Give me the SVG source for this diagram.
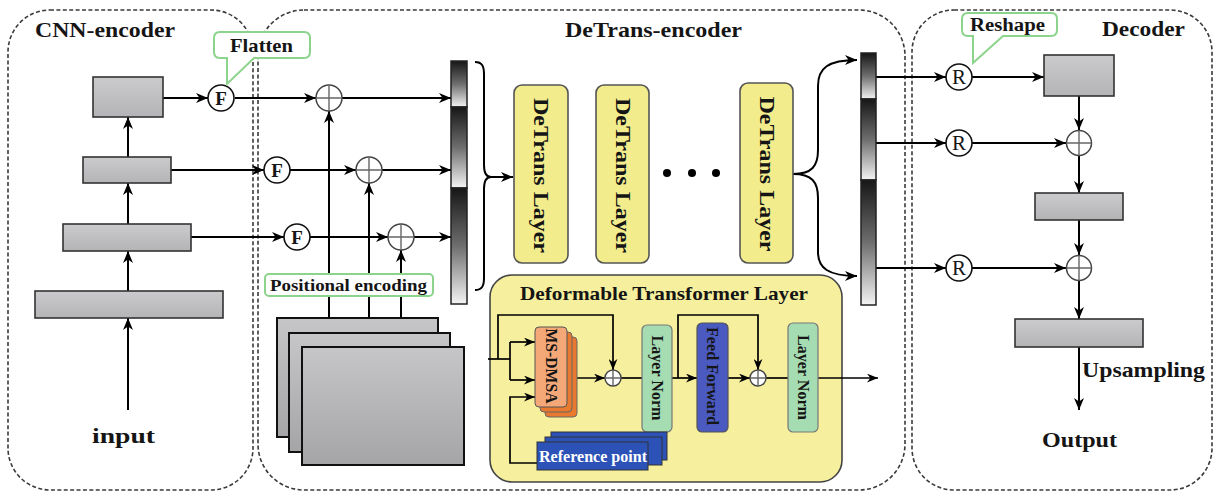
<svg xmlns="http://www.w3.org/2000/svg" width="1216" height="496" viewBox="0 0 1216 496">
<style>
text{font-family:"Liberation Serif","Times New Roman",serif;font-weight:bold;fill:#151515}
.box{fill:none;stroke:#3a3a3a;stroke-width:1.6;stroke-dasharray:4 2.4}
.g{fill:url(#gr);stroke:#333;stroke-width:1.6}
.ln{fill:none;stroke:#000;stroke-width:2}
.lnm{fill:none;stroke:#000;stroke-width:2;marker-end:url(#ah)}
.sm{fill:none;stroke:#000;stroke-width:1.7;marker-end:url(#ahs)}
.sl{fill:none;stroke:#000;stroke-width:1.7}
.circ{fill:#fff;stroke:#111;stroke-width:1.6}
.plus{fill:#fff;stroke:#444;stroke-width:1.5}
.cross{stroke:#666;stroke-width:1.4}
.tag{fill:#fff;stroke:#8cd48c;stroke-width:2}
.layer{fill:#f2ec8c;stroke:#555;stroke-width:1.6}
.seg{fill:url(#bar);stroke:#222;stroke-width:1.5}
.ln2{fill:#a6dcb2;stroke:#777;stroke-width:1.2}
.ms{fill:#e8792f;stroke:#666;stroke-width:1}
.rp{fill:#2c52b8;stroke:#333;stroke-width:1}
</style>
<defs>
<marker id="ah" viewBox="0 0 12 10" refX="12" refY="5" markerWidth="12" markerHeight="10" markerUnits="userSpaceOnUse" orient="auto"><path d="M0,0 L12,5 L0,10 L3.5,5 z" fill="#000"/></marker>
<marker id="ahs" viewBox="0 0 10 8" refX="10" refY="4" markerWidth="11" markerHeight="9" markerUnits="userSpaceOnUse" orient="auto"><path d="M0,0 L10,4 L0,8 L3,4 z" fill="#000"/></marker>
<linearGradient id="bar" x1="0" y1="0" x2="0" y2="1"><stop offset="0" stop-color="#161616"/><stop offset="0.5" stop-color="#6e6e6e"/><stop offset="1" stop-color="#f4f4f4"/></linearGradient>
<linearGradient id="gr" x1="0" y1="0" x2="0" y2="1"><stop offset="0" stop-color="#cbcbcd"/><stop offset="1" stop-color="#b4b4b6"/></linearGradient>
<linearGradient id="gr2" x1="0" y1="0" x2="0" y2="1"><stop offset="0" stop-color="#c6c6c8"/><stop offset="1" stop-color="#a5a5a7"/></linearGradient>
</defs>

<g id="cnn-encoder">
<rect class="box" x="8" y="10" width="245" height="480" rx="42"/>
<text x="35" y="37" font-size="21" textLength="140" lengthAdjust="spacingAndGlyphs">CNN-encoder</text>
</g>
<g id="detrans-encoder">
<rect class="box" x="258" y="10" width="647" height="480" rx="46"/>
<text x="565" y="37" font-size="21" textLength="177" lengthAdjust="spacingAndGlyphs">DeTrans-encoder</text>
</g>
<g id="decoder">
<rect class="box" x="912" y="10" width="300" height="480" rx="42"/>
<text x="1102" y="36" font-size="21" textLength="83" lengthAdjust="spacingAndGlyphs">Decoder</text>
</g>

<g id="connectors">
<path class="lnm" d="M128,410 V318"/>
<path class="lnm" d="M128,291 V251"/>
<path class="lnm" d="M128,224 V183"/>
<path class="lnm" d="M128,157 V117"/>
<path class="lnm" d="M163,98 H208"/>
<path class="lnm" d="M235,98 H316"/>
<path class="lnm" d="M342,98 H451"/>
<path class="lnm" d="M171,170 H264"/>
<path class="lnm" d="M290,170 H356"/>
<path class="lnm" d="M382,170 H451"/>
<path class="lnm" d="M191,237 H284"/>
<path class="lnm" d="M310,237 H388"/>
<path class="lnm" d="M414,237 H451"/>
<path class="lnm" d="M329,318 V111"/>
<path class="lnm" d="M369,333 V183"/>
<path class="lnm" d="M401,318 V250"/>
<path class="ln" d="M475,62 C482,62 484,66 484,74 V165 C484,173 486,177 491,177 C486,177 484,181 484,189 V278 C484,286 482,290 475,290"/>
<path class="lnm" d="M490,177 H513"/>
<path class="lnm" d="M793,174 C812,174 818,166 818,150 V86 C818,68 828,60 857,60"/>
<path class="lnm" d="M793,174 C812,174 818,182 818,198 V252 C818,268 828,276 857,276"/>
<path class="lnm" d="M876,77 H946"/>
<path class="lnm" d="M972,77 H1044"/>
<path class="lnm" d="M876,143 H946"/>
<path class="lnm" d="M972,143 H1066"/>
<path class="lnm" d="M876,268 H946"/>
<path class="lnm" d="M972,268 H1066"/>
<path class="lnm" d="M1079,96 V130"/>
<path class="lnm" d="M1079,156 V193"/>
<path class="lnm" d="M1079,220 V255"/>
<path class="lnm" d="M1079,281 V319"/>
<path class="lnm" d="M1079,347 V410"/>
</g>

<g id="c1"><rect class="g" x="93" y="77" width="70" height="40"/></g>
<g id="c2"><rect class="g" x="83" y="157" width="88" height="26"/></g>
<g id="c3"><rect class="g" x="63" y="224" width="128" height="27"/></g>
<g id="c4"><rect class="g" x="35" y="291" width="188" height="27"/></g>
<g id="input"><text x="92" y="443" font-size="21" textLength="63" lengthAdjust="spacingAndGlyphs">input</text></g>

<g id="f1"><circle class="circ" cx="221" cy="98" r="13"/><text x="221" y="104.5" font-size="19" text-anchor="middle">F</text></g>
<g id="f2"><circle class="circ" cx="277" cy="170" r="13"/><text x="277" y="176.5" font-size="19" text-anchor="middle">F</text></g>
<g id="f3"><circle class="circ" cx="297" cy="237" r="13"/><text x="297" y="243.5" font-size="19" text-anchor="middle">F</text></g>

<g id="p1"><circle class="plus" cx="329" cy="98" r="13"/><path class="cross" d="M316,98 H342 M329,85 V111"/></g>
<g id="p2"><circle class="plus" cx="369" cy="170" r="13"/><path class="cross" d="M356,170 H382 M369,157 V183"/></g>
<g id="p3"><circle class="plus" cx="401" cy="237" r="13"/><path class="cross" d="M388,237 H414 M401,224 V250"/></g>

<g id="flatten"><path class="tag" d="M220,32 H304 Q310,32 310,38 V52 Q310,58 304,58 H254 L227,84 V58 H220 Q214,58 214,52 V38 Q214,32 220,32 Z"/><text x="230" y="52" font-size="19" textLength="63" lengthAdjust="spacingAndGlyphs">Flatten</text></g>

<g id="pos-features">
<rect x="277" y="318" width="161" height="119" fill="url(#gr2)" stroke="#111" stroke-width="2"/>
<rect x="289" y="333" width="161" height="119" fill="url(#gr2)" stroke="#111" stroke-width="2"/>
<rect x="302" y="347" width="162" height="118" fill="url(#gr2)" stroke="#111" stroke-width="2"/>
</g>
<g id="positional"><rect class="tag" x="265" y="274" width="168" height="22" rx="4"/><text x="270" y="291" font-size="17" textLength="157" lengthAdjust="spacingAndGlyphs">Positional encoding</text></g>

<g id="in-bar">
<rect class="seg" x="451" y="61" width="16" height="46"/>
<rect class="seg" x="451" y="107" width="16" height="81"/>
<rect class="seg" x="451" y="188" width="16" height="116"/>
</g>

<g id="dt1"><rect class="layer" x="514" y="85" width="54" height="178" rx="8"/><text transform="translate(541,175.5) rotate(90)" font-size="20" text-anchor="middle" dominant-baseline="central" textLength="155" lengthAdjust="spacingAndGlyphs">DeTrans Layer</text></g>
<g id="dt2"><rect class="layer" x="596" y="85" width="53" height="178" rx="8"/><text transform="translate(622.5,175.5) rotate(90)" font-size="20" text-anchor="middle" dominant-baseline="central" textLength="155" lengthAdjust="spacingAndGlyphs">DeTrans Layer</text></g>
<g id="dots"><circle cx="667" cy="173" r="4" fill="#000"/><circle cx="692" cy="173" r="4" fill="#000"/><circle cx="716" cy="173" r="4" fill="#000"/></g>
<g id="dt3"><rect class="layer" x="740" y="83" width="53" height="180" rx="8"/><text transform="translate(766.5,174) rotate(90)" font-size="20" text-anchor="middle" dominant-baseline="central" textLength="155" lengthAdjust="spacingAndGlyphs">DeTrans Layer</text></g>

<g id="out-bar">
<rect class="seg" x="861" y="53" width="15" height="46"/>
<rect class="seg" x="861" y="99" width="15" height="81"/>
<rect class="seg" x="861" y="180" width="15" height="125"/>
</g>

<g id="deformable">
<rect x="490" y="275" width="352" height="207" rx="22" fill="#f6f09e" stroke="#444" stroke-width="1.6"/>
<text x="520" y="300" font-size="19" textLength="288" lengthAdjust="spacingAndGlyphs">Deformable Transformer Layer</text>
<g id="deform-connectors">
<path class="sl" d="M488,359 H510"/>
<path class="sm" d="M498,359 V315 H613 V370"/>
<path class="sl" d="M510,342 V380"/>
<path class="sm" d="M510,342 H535"/>
<path class="sm" d="M510,380 H535"/>
<path class="sm" d="M537,463 H510 V397 H535"/>
<path class="sm" d="M567,378 H605"/>
<path class="sl" d="M621,378 H642"/>
<path class="sm" d="M672,378 H697"/>
<path class="sm" d="M678,378 V315 H758 V370"/>
<path class="sm" d="M728,378 H750"/>
<path class="sl" d="M766,378 H788"/>
<path class="sm" d="M818,378 H878"/>
</g>
<g id="msdmsa">
<rect class="ms" x="545" y="337" width="32" height="80" rx="4"/>
<rect class="ms" x="540" y="332" width="32" height="80" rx="4"/>
<rect x="535" y="327" width="32" height="80" rx="4" fill="#f4a878" stroke="#555" stroke-width="1"/>
<text transform="translate(551,366) rotate(90)" font-size="16" text-anchor="middle" dominant-baseline="central" textLength="75" lengthAdjust="spacingAndGlyphs">MS-DMSA</text>
</g>
<g id="dp1"><circle class="plus" cx="613" cy="378" r="8"/><path class="cross" d="M605,378 H621 M613,370 V386"/></g>
<g id="layernorm1"><rect class="ln2" x="642" y="325" width="30" height="107" rx="5"/><text transform="translate(657,378) rotate(90)" font-size="16" text-anchor="middle" dominant-baseline="central" textLength="85" lengthAdjust="spacingAndGlyphs">Layer Norm</text></g>
<g id="feedforward"><rect x="697" y="323" width="31" height="109" rx="5" fill="#4a5ac0" stroke="#555" stroke-width="1.2"/><text transform="translate(712.5,376) rotate(90)" font-size="16" text-anchor="middle" dominant-baseline="central" textLength="98" lengthAdjust="spacingAndGlyphs">Feed Forward</text></g>
<g id="dp2"><circle class="plus" cx="758" cy="378" r="8"/><path class="cross" d="M750,378 H766 M758,370 V386"/></g>
<g id="layernorm2"><rect class="ln2" x="788" y="323" width="30" height="109" rx="5"/><text transform="translate(803,377.5) rotate(90)" font-size="16" text-anchor="middle" dominant-baseline="central" textLength="85" lengthAdjust="spacingAndGlyphs">Layer Norm</text></g>
<g id="refpoint">
<rect class="rp" x="551" y="432" width="116" height="28"/>
<rect class="rp" x="545" y="437" width="117" height="28"/>
<rect class="rp" x="537" y="442" width="111" height="28"/>
<text x="539" y="462" font-size="16" textLength="108" lengthAdjust="spacingAndGlyphs" style="fill:#fff">Reference point</text>
</g>
</g>

<g id="r1"><circle class="circ" cx="959" cy="77" r="13"/><text x="959" y="84" font-size="21" text-anchor="middle" style="font-weight:normal">R</text></g>
<g id="r2"><circle class="circ" cx="959" cy="143" r="13"/><text x="959" y="150" font-size="21" text-anchor="middle" style="font-weight:normal">R</text></g>
<g id="r3"><circle class="circ" cx="959" cy="268" r="13"/><text x="959" y="275" font-size="21" text-anchor="middle" style="font-weight:normal">R</text></g>
<g id="reshape"><path class="tag" d="M968,13 H1051 Q1057,13 1057,19 V30 Q1057,36 1051,36 H1003 L973,63 V36 H968 Q962,36 962,30 V19 Q962,13 968,13 Z"/><text x="970" y="31" font-size="18" textLength="75" lengthAdjust="spacingAndGlyphs">Reshape</text></g>
<g id="d1"><rect class="g" x="1044" y="55" width="70" height="41"/></g>
<g id="dp3"><circle class="plus" cx="1079" cy="143" r="12.5"/><path class="cross" d="M1066.5,143 H1091.5 M1079,130.5 V155.5"/></g>
<g id="d2"><rect class="g" x="1035" y="193" width="88" height="27"/></g>
<g id="dp4"><circle class="plus" cx="1079" cy="268" r="12.5"/><path class="cross" d="M1066.5,268 H1091.5 M1079,255.5 V280.5"/></g>
<g id="d3"><rect class="g" x="1015" y="319" width="128" height="28"/></g>
<g id="upsampling"><text x="1082" y="377" font-size="21" textLength="123" lengthAdjust="spacingAndGlyphs">Upsampling</text></g>
<g id="output"><text x="1042" y="447" font-size="21" textLength="75" lengthAdjust="spacingAndGlyphs">Output</text></g>
</svg>
